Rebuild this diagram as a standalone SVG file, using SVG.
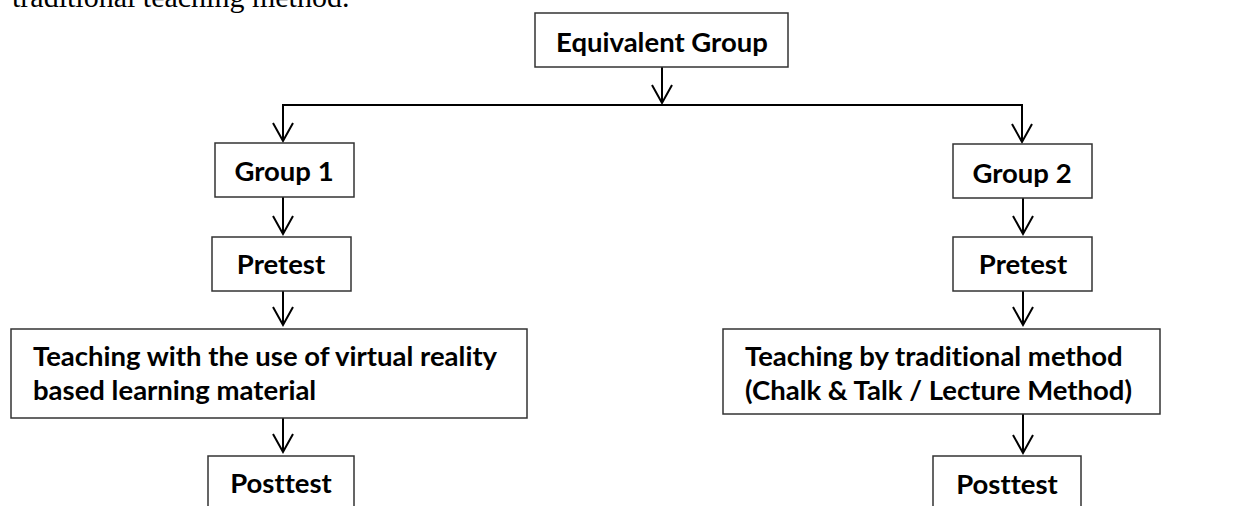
<svg xmlns="http://www.w3.org/2000/svg" width="1239" height="506" viewBox="0 0 1239 506">
<style>
.box{fill:#fff;stroke:#333;stroke-width:1.5}
.t{font-family:Lato,"Liberation Sans",sans-serif;font-weight:bold;font-size:27.5px;fill:#000;font-variant-ligatures:none}
.c{text-anchor:middle}
.ln{fill:none;stroke:#000;stroke-width:2}
.top{font-family:"Liberation Serif",serif;font-size:30px;fill:#000}
</style>
<defs>
<marker id="ah" markerUnits="userSpaceOnUse" markerWidth="24" markerHeight="24" viewBox="-20 -12 24 24" refX="0" refY="0" orient="auto" overflow="visible">
<path d="M-18,-10 L0,0 L-18,10" fill="none" stroke="#000" stroke-width="2"/>
</marker>
</defs>
<rect width="1239" height="506" fill="#fff"/>
<text class="top" x="12" y="7">traditional teaching method.</text>
<g id="connectors">
<line class="ln" x1="662" y1="67" x2="662" y2="103" marker-end="url(#ah)"/>
<polyline class="ln" points="283,141 283,105 1022,105 1022,142" fill="none"/>
<line class="ln" x1="283" y1="105" x2="283" y2="141" marker-end="url(#ah)"/>
<line class="ln" x1="1022" y1="105" x2="1022" y2="142" marker-end="url(#ah)"/>
<line class="ln" x1="283" y1="197" x2="283" y2="234" marker-end="url(#ah)"/>
<line class="ln" x1="1023" y1="198" x2="1023" y2="234" marker-end="url(#ah)"/>
<line class="ln" x1="283" y1="291" x2="283" y2="325" marker-end="url(#ah)"/>
<line class="ln" x1="1023" y1="291" x2="1023" y2="325" marker-end="url(#ah)"/>
<line class="ln" x1="283" y1="418" x2="283" y2="452" marker-end="url(#ah)"/>
<line class="ln" x1="1023" y1="414" x2="1023" y2="453" marker-end="url(#ah)"/>
</g>
<g id="equivalent">
<rect class="box" x="535" y="13" width="253" height="54"/>
<text class="t c" x="662" y="52">Equivalent Group</text>
</g>
<g id="group1">
<rect class="box" x="215" y="143" width="139" height="54"/>
<text class="t c" x="284" y="181">Group 1</text>
</g>
<g id="group2">
<rect class="box" x="953" y="144" width="139" height="54"/>
<text class="t c" x="1022" y="183">Group 2</text>
</g>
<g id="pretest1">
<rect class="box" x="212" y="237" width="139" height="54"/>
<text class="t c" x="281" y="274">Pretest</text>
</g>
<g id="pretest2">
<rect class="box" x="953" y="237" width="139" height="54"/>
<text class="t c" x="1023" y="274">Pretest</text>
</g>
<g id="teach1">
<rect class="box" x="11" y="329" width="516" height="89"/>
<text class="t" x="33" y="366">Teaching with the use of virtual reality</text>
<text class="t" x="33" y="400">based learning material</text>
</g>
<g id="teach2">
<rect class="box" x="723" y="329" width="437" height="85"/>
<text class="t" x="745" y="366">Teaching by traditional method</text>
<text class="t" x="745" y="400">(Chalk &amp; Talk / Lecture Method)</text>
</g>
<g id="posttest1">
<rect class="box" x="208" y="456" width="146" height="60"/>
<text class="t c" x="281" y="493">Posttest</text>
</g>
<g id="posttest2">
<rect class="box" x="933" y="456" width="148" height="60"/>
<text class="t c" x="1007" y="494">Posttest</text>
</g>
</svg>
